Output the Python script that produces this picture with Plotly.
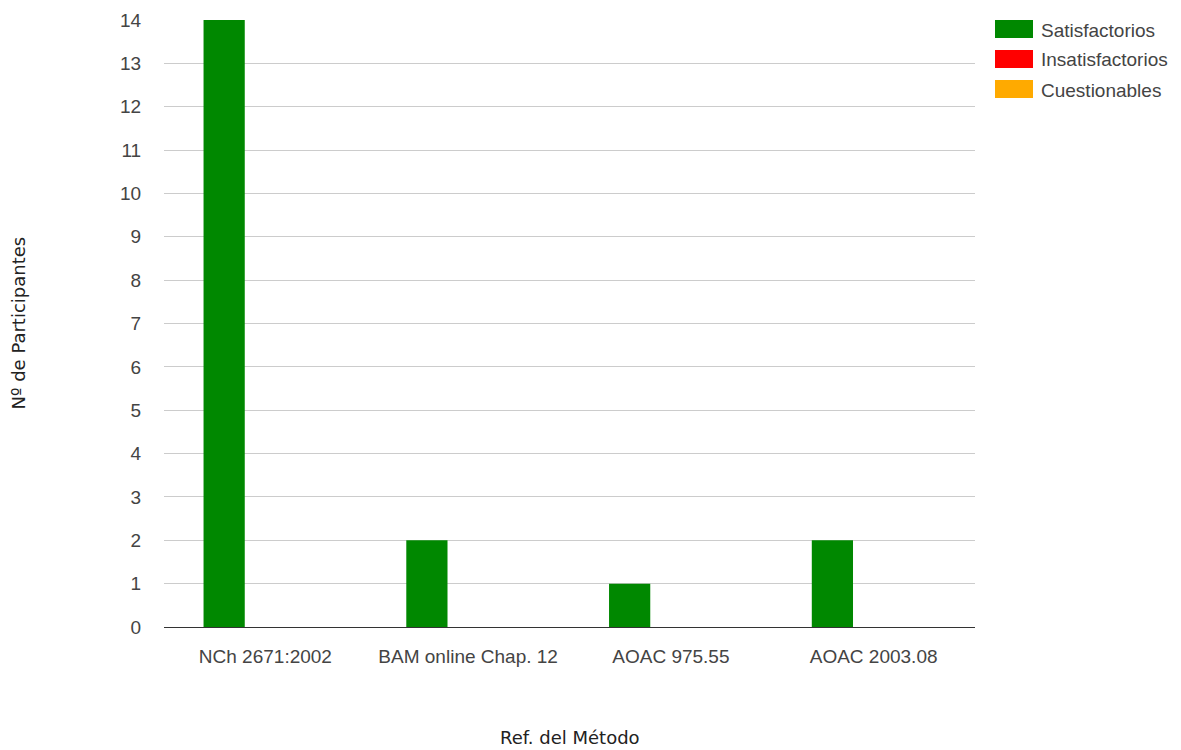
import plotly.graph_objects as go

# Data
methods = ["NCh 2671:2002", "BAM online Chap. 12", "AOAC 975.55", "AOAC 2003.08"]
series_names = ["Satisfactorios", "Insatisfactorios", "Cuestionables"]
satisfactorios = [14, 2, 1, 2]
insatisfactorios = [0, 0, 0, 0]
cuestionables = [0, 0, 0, 0]
y_ticks = list(range(0, 15))

colors = ["#008800", "#ff0000", "#ffaa00"]
values = [satisfactorios, insatisfactorios, cuestionables]

fig = go.Figure()
for name, vals, col in zip(series_names, values, colors):
    fig.add_trace(go.Bar(x=methods, y=vals, name=name, marker_color=col,
                         marker_line_width=0, showlegend=False))

W, H = 1181, 750
L, R, T, B = 164, 206, 20, 123
tick_font = dict(family="Liberation Sans, Arial, sans-serif", size=19, color="#444444")

fig.update_layout(
    width=W, height=H,
    margin=dict(l=L, r=R, t=T, b=B, pad=0),
    paper_bgcolor="white", plot_bgcolor="white",
    barmode="group", bargap=0.39, bargroupgap=0,
    xaxis=dict(showgrid=False, showline=True, linecolor="#333333", linewidth=1,
               tickfont=tick_font, ticks="outside", ticklen=12, tickcolor="rgba(0,0,0,0)",
               zeroline=False, automargin=False),
    yaxis=dict(range=[0, 14], tickvals=y_ticks, showgrid=True, gridcolor="#cccccc",
               gridwidth=1, zeroline=False, showline=False, tickfont=tick_font,
               ticks="outside", ticklen=18, tickcolor="rgba(0,0,0,0)", automargin=False),
)

# Axis titles
title_font = dict(family="DejaVu Sans, Verdana, sans-serif", size=18, color="#222222")
pw, ph = W - L - R, H - T - B
fig.add_annotation(text="Ref. del Método", xref="paper", yref="paper",
                   x=0.5, y=-(737 - 627) / ph, showarrow=False,
                   font=title_font, xanchor="center", yanchor="middle")
fig.add_annotation(text="Nº de Participantes", xref="paper", yref="paper",
                   x=-(L - 18) / pw, y=0.5, showarrow=False, textangle=-90,
                   font=title_font, xanchor="center", yanchor="middle")

# Legend with wide colour swatches
for i, (name, col) in enumerate(zip(series_names, colors)):
    top = 20 + i * 30
    fig.add_shape(type="rect", xref="paper", yref="paper",
                  x0=(995 - L) / pw, x1=(1033 - L) / pw,
                  y0=1 - (top + 18 - T) / ph, y1=1 - (top - T) / ph,
                  fillcolor=col, line_width=0)
    fig.add_annotation(text=name, xref="paper", yref="paper",
                       x=(1039 - L) / pw, y=1 - (top + 10 - T) / ph,
                       showarrow=False, xanchor="left", yanchor="middle",
                       font=dict(family="Liberation Sans, Arial, sans-serif", size=19,
                                 color="#444444"))

fig.write_html("out.html")
